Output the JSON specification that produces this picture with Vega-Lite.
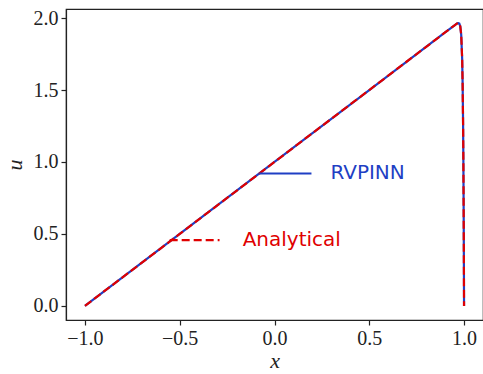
{
  "$schema": "https://vega.github.io/schema/vega-lite/v6.json",
  "width": 417,
  "height": 311,
  "autosize": "none",
  "padding": {"left": 66, "top": 9, "right": 0, "bottom": 54},
  "background": "white",
  "config": {
    "view": {"stroke": "#222", "strokeWidth": 1.2},
    "axis": {
      "grid": false,
      "domainColor": "#222",
      "domainWidth": 1.2,
      "tickColor": "#222",
      "tickSize": 5,
      "tickWidth": 1.2,
      "labelFont": "Liberation Serif",
      "labelFontSize": 20,
      "labelColor": "#222",
      "titleFont": "Liberation Serif",
      "titleFontSize": 22,
      "titleFontStyle": "italic",
      "titleFontWeight": "normal",
      "titleColor": "#222"
    }
  },
  "datasets": {
    "curve": [
      {"x": -1.0, "u": 0.0},
      {"x": -0.5, "u": 0.5},
      {"x": 0.0, "u": 1.0},
      {"x": 0.5, "u": 1.5},
      {"x": 0.9, "u": 1.9},
      {"x": 0.95, "u": 1.9499},
      {"x": 0.96, "u": 1.9593},
      {"x": 0.965, "u": 1.9632},
      {"x": 0.97, "u": 1.965},
      {"x": 0.975, "u": 1.9615},
      {"x": 0.98, "u": 1.9434},
      {"x": 0.985, "u": 1.8854},
      {"x": 0.99, "u": 1.7193},
      {"x": 0.9925, "u": 1.5462},
      {"x": 0.995, "u": 1.2592},
      {"x": 0.9965, "u": 1.0033},
      {"x": 0.998, "u": 0.6574},
      {"x": 0.999, "u": 0.3615},
      {"x": 1.0, "u": 0.0}
    ],
    "legend": [
      {"series": "RVPINN", "x1": -0.08, "x2": 0.195, "u": 0.92, "lx": 0.295},
      {"series": "Analytical", "x1": -0.553, "x2": -0.29, "u": 0.457, "lx": -0.168}
    ]
  },
  "layer": [
    {
      "data": {"name": "curve"},
      "mark": {"type": "line", "color": "#1f3fc4", "strokeWidth": 2.2, "clip": true},
      "encoding": {
        "x": {
          "field": "x", "type": "quantitative",
          "scale": {"domain": [-1.1, 1.1], "nice": false, "zero": false},
          "axis": {"values": [-1, -0.5, 0, 0.5, 1], "format": ".1f", "title": "x", "titlePadding": 2, "labelPadding": 3}
        },
        "y": {
          "field": "u", "type": "quantitative",
          "scale": {"domain": [-0.098, 2.063], "nice": false, "zero": false},
          "axis": {"values": [0, 0.5, 1, 1.5, 2], "format": ".1f", "title": "u", "titlePadding": 7, "labelPadding": 3}
        },
        "order": {"field": "x", "type": "quantitative"}
      }
    },
    {
      "data": {"name": "curve"},
      "mark": {"type": "line", "color": "#e00000", "strokeWidth": 2.2, "strokeDash": [8, 3.5], "clip": true},
      "encoding": {
        "x": {"field": "x", "type": "quantitative"},
        "y": {"field": "u", "type": "quantitative"},
        "order": {"field": "x", "type": "quantitative"}
      }
    },
    {
      "data": {"name": "legend"},
      "mark": {"type": "rule", "strokeWidth": 2.2},
      "encoding": {
        "x": {"field": "x1", "type": "quantitative"},
        "x2": {"field": "x2"},
        "y": {"field": "u", "type": "quantitative"},
        "color": {"field": "series", "type": "nominal", "scale": {"domain": ["RVPINN", "Analytical"], "range": ["#1f3fc4", "#e00000"]}, "legend": null},
        "strokeDash": {"field": "series", "type": "nominal", "scale": {"domain": ["RVPINN", "Analytical"], "range": [[1, 0], [8, 4]]}, "legend": null}
      }
    },
    {
      "data": {"name": "legend"},
      "mark": {"type": "text", "align": "left", "baseline": "middle", "font": "DejaVu Sans", "fontSize": 20},
      "encoding": {
        "x": {"field": "lx", "type": "quantitative"},
        "y": {"field": "u", "type": "quantitative"},
        "text": {"field": "series"},
        "color": {"field": "series", "type": "nominal", "legend": null}
      }
    }
  ]
}
